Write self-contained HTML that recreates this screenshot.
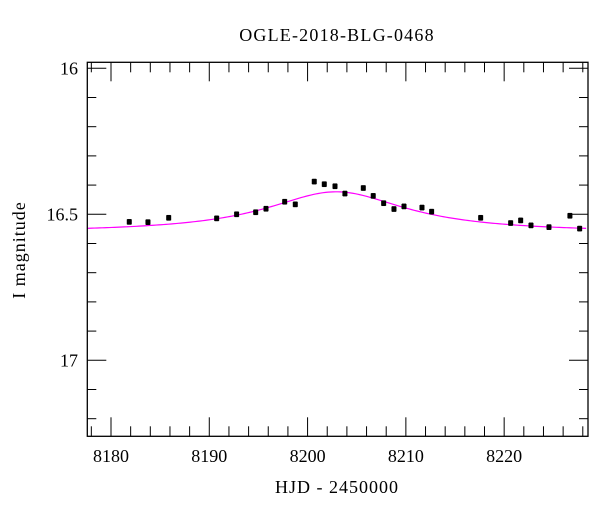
<!DOCTYPE html>
<html><head><meta charset="utf-8"><style>
html,body{margin:0;padding:0;background:#fff;}
svg{display:block;font-family:"Liberation Serif","DejaVu Serif",serif;}
</style></head><body>
<svg id="chart" width="600" height="512" viewBox="0 0 600 512">
<text x="337" y="41" text-anchor="middle" font-size="18" letter-spacing="1.2">OGLE-2018-BLG-0468</text>
<text x="337" y="493" text-anchor="middle" font-size="18" letter-spacing="1">HJD - 2450000</text>
<text x="0" y="0" transform="translate(25,250) rotate(-90)" text-anchor="middle" font-size="18" letter-spacing="1">I magnitude</text>
<g id="ticks"></g>
<g id="model"></g>
<g id="points"></g>
<rect x="87.3" y="62.3" width="500.7" height="374" fill="none" stroke="#000" stroke-width="1.3"/>
</svg>
<script>
const days = [8181.86,8183.76,8185.87,8190.75,8192.78,8194.72,8195.77,8197.67,8198.75,8200.68,8201.70,8202.79,8203.80,8205.67,8206.68,8207.74,8208.79,8209.81,8211.64,8212.62,8217.61,8220.66,8221.68,8222.73,8224.56,8226.69,8227.68];
const mags = [16.526,16.527,16.512,16.514,16.500,16.493,16.481,16.457,16.466,16.388,16.397,16.404,16.429,16.410,16.437,16.462,16.482,16.473,16.477,16.491,16.512,16.530,16.521,16.538,16.544,16.505,16.549];
const errs = [0.008,0.008,0.008,0.008,0.008,0.008,0.008,0.008,0.008,0.008,0.008,0.008,0.008,0.008,0.008,0.008,0.008,0.008,0.008,0.008,0.008,0.008,0.008,0.008,0.008,0.008,0.008];
const modelParams = [8202.9, 16.423, 0.14, 8.75]; // t0, peak mag, depth, width
const xTickLabels = [8180,8190,8200,8210,8220];
const yTickLabels = [16,16.5,17];

const X0=87.3, X1=588, Y0=62.3, Y1=436.3;
const dMin=8177.59, dMax=8228.53, mMin=15.9795, mMax=17.2603;
const sx=d=>X0+(d-dMin)/(dMax-dMin)*(X1-X0);
const sy=m=>Y0+(m-mMin)/(mMax-mMin)*(Y1-Y0);
const NS='http://www.w3.org/2000/svg';
function mk(tag,attrs,parent){const e=document.createElementNS(NS,tag);for(const k in attrs)e.setAttribute(k,attrs[k]);parent.appendChild(e);return e;}
const tg=document.getElementById('ticks');
for(let d=8178; d<=8228; d+=2){
  const major = d%10===0;
  const L = major?19:10, x=sx(d);
  const t1=mk('line',{x1:x,x2:x,y1:Y1,y2:Y1-L,stroke:'#000','stroke-width':1},tg);
  
  
  const t2=mk('line',{x1:x,x2:x,y1:Y0,y2:Y0+L,stroke:'#000','stroke-width':1},tg);
  
  
}
xTickLabels.forEach(v=>{
  const t=mk('text',{x:sx(v),y:462,'text-anchor':'middle','font-size':18},tg);
  t.textContent=v;
  
  
});
for(let i=0;i<=12;i++){
  const m=16+i*0.1, major=(i%5===0), L=major?19:9, y=sy(m);
  const a=mk('line',{x1:X0,x2:X0+L,y1:y,y2:y,stroke:'#000','stroke-width':1},tg);
  
  
  const b=mk('line',{x1:X1,x2:X1-L,y1:y,y2:y,stroke:'#000','stroke-width':1},tg);
  
  
}
yTickLabels.forEach(v=>{
  const t=mk('text',{x:78,y:sy(v)+6,'text-anchor':'end','font-size':18},tg);
  t.textContent=v;
  
  
});
const [t0,mPeak,depth,w]=modelParams;
let pts=[];
for(let d=dMin; d<=dMax; d+=0.25){
  const r=(d-t0)/w;
  const m=mPeak+depth*(1-1/(1+r*r));
  pts.push(sx(d).toFixed(2)+','+sy(m).toFixed(2));
}
const pl=mk('polyline',{points:pts.join(' '),fill:'none',stroke:'#ff00ff','stroke-width':1.2},document.getElementById('model'));


const pg=document.getElementById('points');
days.forEach((d,i)=>{
  const x=sx(d), y=sy(mags[i]);
  const g=mk('g',{},pg);
  
  
  mk('line',{x1:x,x2:x,y1:sy(mags[i]-errs[i]),y2:sy(mags[i]+errs[i]),stroke:'#000','stroke-width':1.2},g);
  mk('line',{x1:x-2,x2:x+2,y1:sy(mags[i]-errs[i]),y2:sy(mags[i]-errs[i]),stroke:'#000','stroke-width':1},g);
  mk('line',{x1:x-2,x2:x+2,y1:sy(mags[i]+errs[i]),y2:sy(mags[i]+errs[i]),stroke:'#000','stroke-width':1},g);
  mk('rect',{x:x-2.5,y:y-2.5,width:5,height:5,fill:'#000'},g);
});
</script>
</body></html>
